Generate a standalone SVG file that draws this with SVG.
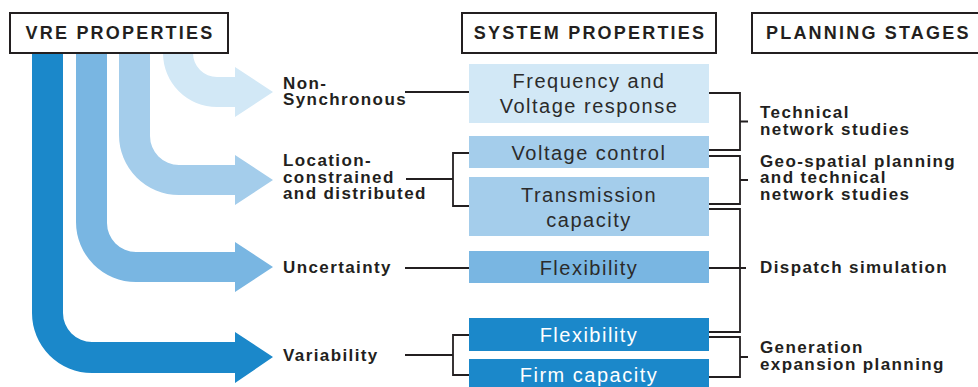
<svg xmlns="http://www.w3.org/2000/svg" width="978" height="387" viewBox="0 0 978 387">
<style>
.hdr{fill:#fff;stroke:#231f20;stroke-width:2}
.ht{font-family:"Liberation Sans",Arial,sans-serif;font-weight:bold;font-size:18px;letter-spacing:2.2px;fill:#231f20}
.lb{font-family:"Liberation Sans",Arial,sans-serif;font-weight:bold;font-size:17px;letter-spacing:1.4px;fill:#231f20}
.st{font-family:"Liberation Sans",Arial,sans-serif;font-size:20px;letter-spacing:1.5px;fill:#2b2b2b;text-anchor:middle}
.stw{fill:#fff}
.ln{stroke:#231f20;stroke-width:1.8;fill:none}
</style>
<rect width="978" height="387" fill="#fff"/>
<g id="arrows">
<path id="arrow-variability" fill="#1b88ca" d="M32,53 L32,313 A60,60 0 0 0 92,373 L235,373 L235,383 L273,357 L235,332 L235,342 L92,342 A29,29 0 0 1 63,313 L63,53 Z"/>
<path id="arrow-uncertainty" fill="#79b6e2" d="M76,53 L76,222 A60,60 0 0 0 136,282 L235,282 L235,292 L273,267 L235,242 L235,252 L136,252 A29,29 0 0 1 107,223 L107,53 Z"/>
<path id="arrow-location" fill="#a4cdeb" d="M119,53 L119,135 A60,60 0 0 0 179,195 L235,195 L235,205 L273,180 L235,155 L235,165 L179,165 A29,29 0 0 1 150,136 L150,53 Z"/>
<path id="arrow-nonsync" fill="#d2e8f6" d="M163,53 A54,54 0 0 0 217,107 L235,107 L235,117 L273,92 L235,67 L235,77 L217,77 A24,24 0 0 1 193,53 Z"/>
</g>
<g id="hdr-vre">
<rect class="hdr" x="10" y="13" width="218" height="40"/>
<text class="ht" x="120" y="39" text-anchor="middle">VRE PROPERTIES</text>
</g>
<g id="hdr-system">
<rect class="hdr" x="462" y="13" width="254" height="40"/>
<text class="ht" x="590" y="39" text-anchor="middle">SYSTEM PROPERTIES</text>
</g>
<g id="hdr-planning">
<rect class="hdr" x="752" y="13" width="240" height="40"/>
<text class="ht" x="766" y="39">PLANNING STAGES</text>
</g>
<g id="connectors">
<path class="ln" d="M405,92 H469"/>
<path class="ln" d="M406,179 H453 M469,153 H453 V206 H469"/>
<path class="ln" d="M405,268 H469"/>
<path class="ln" d="M405,355 H453 M469,335 H453 V375 H469"/>
<path class="ln" d="M709,93 H740 V150 H709 M740,121.5 H748"/>
<path class="ln" d="M709,156 H740 V204 H709 M740,180 H748"/>
<path class="ln" d="M709,209 H740 V332 H709 M709,268 H746"/>
<path class="ln" d="M709,337 H740 V377 H709 M740,357 H748"/>
</g>
<g id="lbl-nonsync"><text class="lb" x="283"><tspan x="283" y="89">Non-</tspan><tspan x="283" y="105">Synchronous</tspan></text></g>
<g id="lbl-location"><text class="lb" x="283"><tspan x="283" y="166">Location-</tspan><tspan x="283" y="183">constrained</tspan><tspan x="283" y="199">and distributed</tspan></text></g>
<g id="lbl-uncertainty"><text class="lb" x="283" y="273">Uncertainty</text></g>
<g id="lbl-variability"><text class="lb" x="283" y="361">Variability</text></g>
<g id="sys-freq">
<rect x="469" y="64" width="240" height="59" fill="#d2e8f6"/>
<text class="st" x="589" y="88">Frequency and</text>
<text class="st" x="589" y="113">Voltage response</text>
</g>
<g id="sys-voltage">
<rect x="469" y="136" width="240" height="32" fill="#a4cdeb"/>
<text class="st" x="589" y="160">Voltage control</text>
</g>
<g id="sys-transmission">
<rect x="469" y="177" width="240" height="59" fill="#a4cdeb"/>
<text class="st" x="589" y="202">Transmission</text>
<text class="st" x="589" y="227">capacity</text>
</g>
<g id="sys-flex1">
<rect x="469" y="251" width="240" height="32" fill="#79b6e2"/>
<text class="st" x="589" y="275">Flexibility</text>
</g>
<g id="sys-flex2">
<rect x="469" y="318" width="240" height="33" fill="#1b88ca"/>
<text class="st stw" x="589" y="342">Flexibility</text>
</g>
<g id="sys-firm">
<rect x="469" y="359" width="240" height="30" fill="#1b88ca"/>
<text class="st stw" x="589" y="382">Firm capacity</text>
</g>
<g id="ps-technical"><text class="lb"><tspan x="760" y="118">Technical</tspan><tspan x="760" y="135">network studies</tspan></text></g>
<g id="ps-geo"><text class="lb"><tspan x="760" y="167">Geo-spatial planning</tspan><tspan x="760" y="183">and technical</tspan><tspan x="760" y="200">network studies</tspan></text></g>
<g id="ps-dispatch"><text class="lb" x="760" y="273">Dispatch simulation</text></g>
<g id="ps-generation"><text class="lb"><tspan x="760" y="353">Generation</tspan><tspan x="760" y="370">expansion planning</tspan></text></g>
</svg>
